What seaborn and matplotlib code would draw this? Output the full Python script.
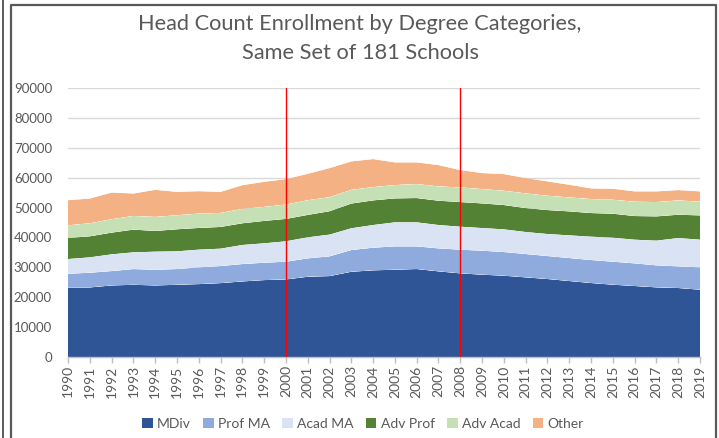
import numpy as np
import pandas as pd
import matplotlib
matplotlib.use("Agg")
import matplotlib.pyplot as plt
from matplotlib.lines import Line2D
from matplotlib.patches import Patch
import seaborn as sns
import seaborn.objects as so

years = list(range(1990, 2020))
categories = ["MDiv", "Prof MA", "Acad MA", "Adv Prof", "Adv Acad", "Other"]
mdiv = [23270, 23270, 23940, 24160, 23940, 24160, 24390, 24720, 25280, 25730,
        25950, 26850, 27070, 28520, 28990, 29210, 29430, 28650, 27980, 27540,
        27200, 26640, 26090, 25420, 24750, 24190, 23750, 23300, 23080, 22520]
prof_ma = [4580, 4920, 4810, 5260, 5250, 5260, 5590, 5710, 5820, 5810,
           5930, 6150, 6600, 7270, 7580, 7800, 7580, 7690, 7920, 8020,
           7920, 7810, 7690, 7690, 7690, 7690, 7580, 7360, 7240, 7470]
acad_ma = [4920, 5140, 5590, 5590, 6040, 5930, 5930, 5810, 6370, 6490,
           6820, 7040, 7270, 7270, 7580, 8030, 8030, 7810, 7690, 7580,
           7580, 7360, 7360, 7580, 7810, 8030, 7910, 8250, 9480, 9250]
adv_prof = [7050, 7050, 7270, 7610, 6940, 7380, 7270, 7270, 7270, 7500,
            7500, 7500, 7830, 8280, 8250, 8030, 8140, 8140, 8250, 8250,
            8140, 8020, 8020, 8030, 7910, 8030, 7920, 8140, 7800, 8140]
adv_acad = [4250, 4360, 4480, 4580, 4700, 4700, 4810, 4700, 4810, 4690,
            4810, 4920, 4700, 4590, 4460, 4460, 4680, 4790, 4900, 4800,
            4790, 4910, 4800, 4680, 4680, 4680, 4790, 4790, 4800, 4570]
other = [8390, 8280, 8940, 7500, 9060, 7830, 7490, 7050, 7940, 8390,
         8500, 8840, 9730, 9510, 9360, 7580, 7250, 7130, 5800, 5350,
         5570, 5130, 4790, 4240, 3570, 3680, 3460, 3570, 3450, 3460]
marker_years = [2000, 2008]
yticks = list(range(0, 90001, 10000))

series = [mdiv, prof_ma, acad_ma, adv_prof, adv_acad, other]
colors = ["#2F5597", "#8FAADC", "#DAE3F3", "#548235", "#C5E0B4", "#F4B183"]
palette = dict(zip(categories, colors))

df = pd.DataFrame({
    "Year": np.tile(years, len(categories)),
    "Category": np.repeat(categories, len(years)),
    "Count": np.concatenate(series),
})

sns.set_theme(style="white")
plt.rcParams["font.family"] = ["Lato", "DejaVu Sans"]

W, H = 719, 438
fig = plt.figure(figsize=(W / 100, H / 100), dpi=100)
fig.patch.set_facecolor("white")
ax = fig.add_axes([68 / W, (H - 357) / H, (700 - 68) / W, (357 - 88) / H])

(
    so.Plot(df, x="Year", y="Count", color="Category")
    .add(so.Area(alpha=1, edgewidth=0), so.Stack())
    .scale(color=so.Nominal(palette, order=categories))
    .on(ax)
    .plot()
)
fig.legends.clear()

gray = "#595959"
ax.set_xlim(1990, 2019)
ax.set_ylim(0, 90000)
ax.set_yticks(yticks)
ax.set_yticklabels([str(v) for v in yticks], color=gray, fontsize=9.5)
ax.set_xticks(years)
ax.set_xticklabels([str(y) for y in years], rotation=90, color=gray, fontsize=10)
ax.set_xlabel("")
ax.set_ylabel("")
ax.grid(axis="y", color="#D9D9D9", lw=1)
ax.grid(axis="x", visible=False)
ax.set_axisbelow(True)
for s in ["top", "right", "left"]:
    ax.spines[s].set_visible(False)
ax.spines["bottom"].set_visible(True)
ax.spines["bottom"].set_color("#BFBFBF")
ax.spines["bottom"].set_linewidth(1)
ax.tick_params(axis="x", length=4, color="#BFBFBF", width=1, pad=2, bottom=True)
ax.tick_params(axis="y", length=0, pad=11.5)

for xv in marker_years:
    ax.axvline(xv, color="red", lw=1, zorder=5)

fig.text(360 / W, 1 - 24 / H, "Head Count Enrollment by Degree Categories,",
         ha="center", va="center", fontsize=15.7, color=gray)
fig.text(360 / W, 1 - 53 / H, "Same Set of 181 Schools",
         ha="center", va="center", fontsize=15.7, color=gray)

handles = [Patch(facecolor=c, edgecolor="none") for c in colors]
fig.legend(handles, categories, loc="center", bbox_to_anchor=(363 / W, 1 - 424 / H),
           ncol=6, frameon=False, fontsize=10, labelcolor=gray,
           handlelength=0.75, handleheight=0.75, handletextpad=0.3, columnspacing=0.9)

# chart frame lines
fig.add_artist(Line2D([3 / W, 3 / W], [0, 1], transform=fig.transFigure, color="#404040", lw=1.2))
fig.add_artist(Line2D([11 / W, 11 / W, 716 / W, 716 / W], [0, 1 - 5 / H, 1 - 5 / H, 0],
                      transform=fig.transFigure, color="#595959", lw=1.6))

fig.savefig("out.png", dpi=100)
